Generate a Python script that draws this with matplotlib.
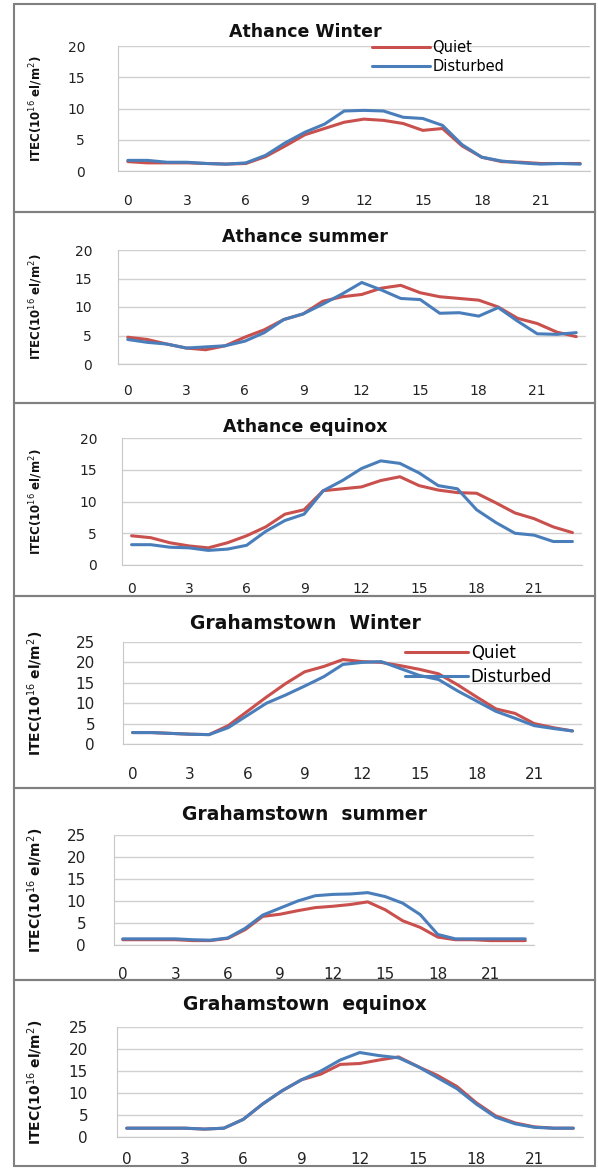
import numpy as np
import matplotlib
matplotlib.use("Agg")
import matplotlib.pyplot as plt
from matplotlib.patches import Rectangle

hours = list(range(24))
xtick_vals = [0, 3, 6, 9, 12, 15, 18, 21]

titles = ["Athance Winter", "Athance summer", "Athance equinox",
          "Grahamstown  Winter", "Grahamstown  summer", "Grahamstown  equinox"]

ath_winter_quiet = [1.5, 1.3, 1.3, 1.3, 1.2, 1.1, 1.2, 2.3, 4.0, 5.8, 6.8, 7.8,
                    8.3, 8.1, 7.6, 6.5, 6.8, 4.0, 2.2, 1.5, 1.4, 1.2, 1.2, 1.2]
ath_winter_dist = [1.7, 1.7, 1.4, 1.4, 1.2, 1.1, 1.3, 2.5, 4.5, 6.2, 7.5, 9.6,
                   9.7, 9.6, 8.6, 8.4, 7.3, 4.2, 2.2, 1.6, 1.3, 1.1, 1.2, 1.1]

ath_summer_quiet = [4.7, 4.3, 3.5, 2.8, 2.5, 3.2, 4.7, 6.0, 7.8, 8.8, 11.0, 11.8,
                    12.2, 13.3, 13.8, 12.5, 11.8, 11.5, 11.2, 10.0, 8.0, 7.1, 5.6, 4.8]
ath_summer_dist = [4.3, 3.8, 3.5, 2.8, 3.0, 3.2, 4.0, 5.5, 7.8, 8.8, 10.5, 12.3,
                   14.3, 13.0, 11.5, 11.3, 8.9, 9.0, 8.4, 9.9, 7.5, 5.3, 5.2, 5.5]

ath_equinox_quiet = [4.6, 4.3, 3.5, 3.0, 2.7, 3.5, 4.6, 6.0, 8.0, 8.7, 11.7, 12.0,
                     12.3, 13.3, 13.9, 12.5, 11.8, 11.4, 11.3, 9.8, 8.2, 7.3, 6.0, 5.1]
ath_equinox_dist = [3.2, 3.2, 2.8, 2.7, 2.3, 2.5, 3.1, 5.3, 7.0, 8.0, 11.7, 13.3,
                    15.2, 16.4, 16.0, 14.5, 12.5, 12.0, 8.7, 6.7, 5.0, 4.7, 3.7, 3.7]

gra_winter_quiet = [2.8, 2.8, 2.6, 2.4, 2.3, 4.5, 8.0, 11.5, 14.8, 17.7, 19.0, 20.7,
                    20.2, 20.0, 19.2, 18.3, 17.2, 14.5, 11.5, 8.6, 7.5, 5.0, 4.0, 3.2]
gra_winter_dist = [2.8, 2.8, 2.6, 2.4, 2.3, 4.0, 7.0, 10.0, 12.0, 14.2, 16.5, 19.5,
                   20.0, 20.2, 18.5, 16.8, 15.8, 13.0, 10.5, 8.0, 6.3, 4.5, 3.8, 3.2]

gra_summer_quiet = [1.2, 1.2, 1.2, 1.2, 1.0, 1.0, 1.5, 3.5, 6.5, 7.0, 7.8, 8.5,
                    8.8, 9.2, 9.8, 8.0, 5.5, 4.0, 1.8, 1.2, 1.2, 1.0, 1.0, 1.0]
gra_summer_dist = [1.4, 1.4, 1.4, 1.4, 1.2, 1.1, 1.6, 3.8, 6.8, 8.4, 10.0, 11.2,
                   11.5, 11.6, 11.9, 11.0, 9.5, 6.9, 2.4, 1.4, 1.4, 1.4, 1.4, 1.4]

gra_equinox_quiet = [2.0, 2.0, 2.0, 2.0, 1.8, 2.0, 4.0, 7.5, 10.5, 13.0, 14.3, 16.5,
                     16.7, 17.5, 18.2, 16.0, 14.0, 11.5, 7.8, 4.8, 3.2, 2.3, 2.0, 2.0]
gra_equinox_dist = [2.0, 2.0, 2.0, 2.0, 1.8, 2.0, 4.0, 7.5, 10.5, 13.0, 15.0, 17.5,
                    19.2, 18.5, 18.0, 16.0, 13.5, 11.0, 7.5, 4.5, 3.0, 2.2, 2.0, 2.0]

quiet_series = [ath_winter_quiet, ath_summer_quiet, ath_equinox_quiet,
                gra_winter_quiet, gra_summer_quiet, gra_equinox_quiet]
dist_series = [ath_winter_dist, ath_summer_dist, ath_equinox_dist,
               gra_winter_dist, gra_summer_dist, gra_equinox_dist]
ymaxes = [20, 20, 20, 25, 25, 25]

W, H = 598, 1168
RED = "#C9504D"
BLUE = "#4A7EBB"

# pixel layout: (left, right, top, bottom) of each plot area
axes_px = [(118, 590, 46, 171), (118, 586, 250, 364), (122, 582, 438, 565),
           (123, 582, 642, 744), (114, 534, 835, 945), (117, 583, 1027, 1137)]
title_y = [32, 237, 427, 623, 815, 1005]
xlab_y = [200, 390, 588, 773, 973, 1158]
ylab_gap = [33, 26, 25, 28, 28, 29]
box_lines = [4, 212, 403, 596, 788, 980, 1166]

fig = plt.figure(figsize=(W / 100, H / 100), dpi=100)

for i in range(6):
    l, r, t, b = axes_px[i]
    ax = fig.add_axes([l / W, 1 - b / H, (r - l) / W, (b - t) / H])
    big = i >= 3
    ax.plot(hours, quiet_series[i], color=RED, lw=2.2, label="Quiet",
            solid_capstyle="round")
    ax.plot(hours, dist_series[i], color=BLUE, lw=2.2, label="Disturbed",
            solid_capstyle="round")
    ax.set_xlim(-0.5, 23.5)
    ax.set_ylim(0, ymaxes[i])
    ax.set_xticks(xtick_vals)
    ax.set_yticks(range(0, ymaxes[i] + 1, 5))
    ax.grid(axis="y", color="#d0d0d0", lw=1)
    ax.set_axisbelow(True)
    for s in ["top", "right"]:
        ax.spines[s].set_visible(False)
    ax.spines["left"].set_color("#c8c8c8")
    ax.spines["bottom"].set_color("#c8c8c8")
    fs = 11 if big else 10
    ax.tick_params(length=0, labelsize=fs, labelcolor="#222222")
    ax.tick_params(axis="x", pad=(xlab_y[i] - b - 6) / 1.389)
    ax.tick_params(axis="y", pad=ylab_gap[i] / 1.389)

    fig.text(305 / W, 1 - title_y[i] / H, titles[i], ha="center", va="center",
             fontsize=13.5 if big else 12.5, fontweight="bold", color="#111111")
    fig.text(36 / W, 1 - (t + b) / 2 / H, r"ITEC(10$^{16}$ el/m$^{2}$)",
             rotation=90, ha="center", va="center",
             fontsize=10 if big else 8.5, fontweight="bold", color="#111111")

    if i == 0:
        ax.legend(loc="upper left", bbox_to_anchor=((372 - l) / (r - l), (b - 40) / (b - t)),
                  frameon=False, fontsize=10.5, handlelength=4.0, handletextpad=0.15,
                  labelspacing=0.25, borderpad=0, borderaxespad=0)
    if i == 3:
        ax.legend(loc="upper left", bbox_to_anchor=((405 - l) / (r - l), (b - 644) / (b - t)),
                  frameon=False, fontsize=12, handlelength=3.8, handletextpad=0.15,
                  labelspacing=0.35, borderpad=0, borderaxespad=0)

# panel borders
for y0, y1 in zip(box_lines[:-1], box_lines[1:]):
    fig.patches.append(Rectangle((14 / W, 1 - y1 / H), (595 - 14) / W, (y1 - y0) / H,
                                 transform=fig.transFigure, fill=False,
                                 edgecolor="#808080", lw=1.5))

fig.savefig("out.png", dpi=100)
